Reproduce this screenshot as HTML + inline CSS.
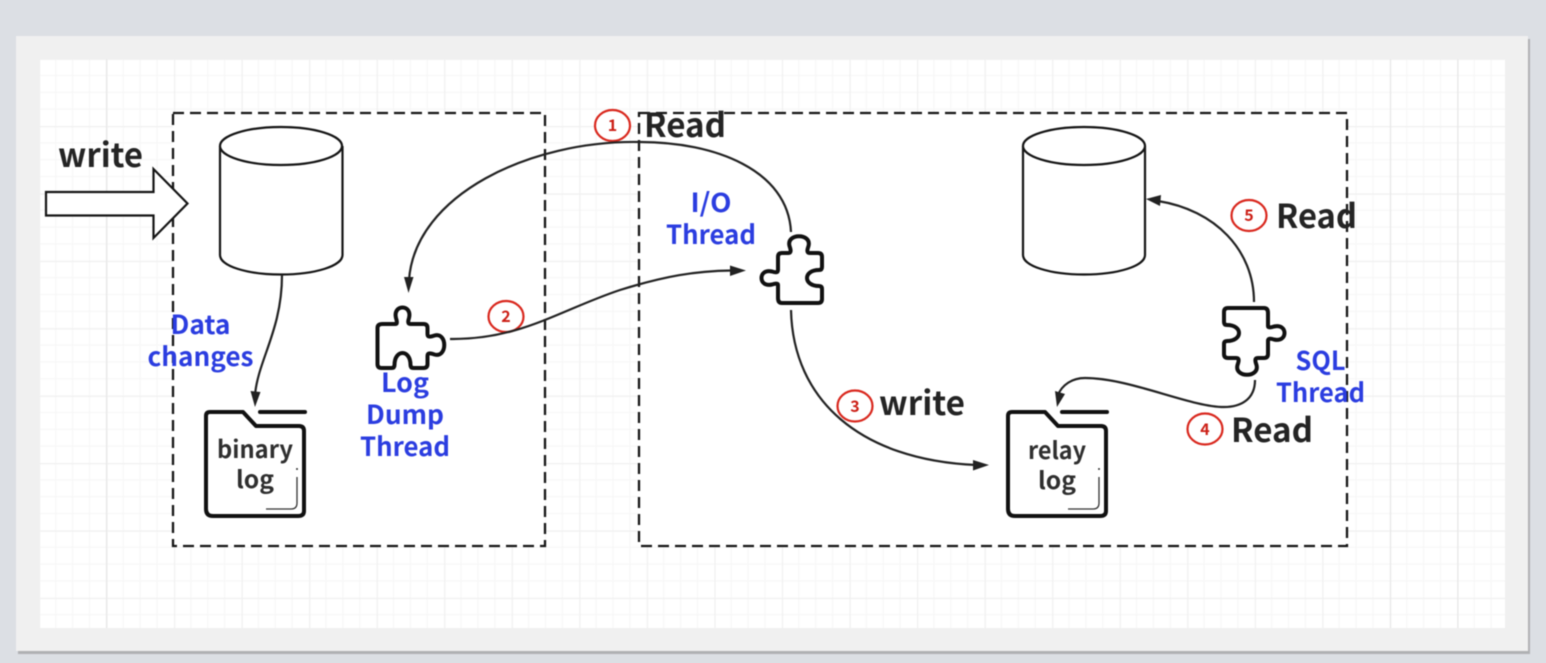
<!DOCTYPE html>
<html lang="en">
<head>
<meta charset="utf-8">
<title>Replication diagram</title>
<style>
html,body{margin:0;padding:0;width:1546px;height:663px;overflow:hidden;background:#dcdfe4;}
svg{display:block;position:absolute;left:0;top:0;filter:blur(0.45px);}
text{font-family:"Noto Sans CJK SC","Liberation Sans",sans-serif;}
.k{font-weight:700;font-size:33px;fill:#242424;}
.b{font-weight:700;font-size:26px;fill:#2b3de0;text-anchor:middle;}
.f{font-weight:700;font-size:24px;fill:#2f2f2f;text-anchor:middle;}
.n{font-weight:700;font-size:16px;fill:#cc1f16;text-anchor:middle;}
.c{fill:#fff;stroke:#d9281e;stroke-width:2.2;}
.l{fill:none;stroke:#222;stroke-width:2.2;}
.d{fill:#fff;stroke:#151515;stroke-width:2.3;stroke-dasharray:11 6;}
.y{fill:#fff;stroke:#151515;stroke-width:2.2;}
</style>
</head>
<body>
<svg width="1546" height="663" viewBox="0 0 1546 663" xmlns="http://www.w3.org/2000/svg">
<defs>
<pattern id="g" patternUnits="userSpaceOnUse" x="106.4" y="126" width="67.55" height="67.4">
<rect width="67.55" height="67.4" fill="#fff"/>
<path d="M16.89 0V67.4M33.78 0V67.4M50.66 0V67.4M0 16.85H67.55M0 33.7H67.55M0 50.55H67.55" stroke="#f7f7f7" stroke-width="1.2" fill="none"/>
<path d="M0.5 0V67.4M0 0.5H67.55" stroke="#f0f0f0" stroke-width="1.4" fill="none"/>
</pattern>
<path id="p" d="M5 0H18C20 0 19.500 -3 18.500 -6C15 -20 35 -20 31.500 -6C30.500 -3 30 0 33 0H46Q50 0 50 4V10C50 14 54 12.500 57 11.500C70 8 70 34 57 30.500C54 29.500 50 28 50 32V40Q50 44 46 44H36Q33 44 33 41C33 25 17 25 17 41Q17 44 14 44H4Q0 44 0 40V4Q0 0 5 0Z"/>
<path id="fd" d="M5 412H38L51 426H94Q99 426 99 431V511Q99 516 93 516H8Q1 516 1 509V416Q1 412 5 412Z"/>
</defs>

<rect x="18" y="39" width="1512" height="615" fill="#8a8a8a" opacity=".55"/>
<rect x="16" y="36" width="1512" height="615" fill="#f0f0f0"/>
<rect x="40" y="59" width="1465" height="569" fill="url(#g)"/>
<path d="M106.500 59V628M1390.500 59V628M1457.800 59V628" stroke="#e8e8e8" stroke-width="1.2"/>

<rect class="d" x="173" y="113" width="372" height="433"/>
<rect class="d" x="639" y="113" width="708" height="433"/>

<!-- block arrow -->
<path class="y" d="M46 192H153.500V169L187.500 203.500L153.500 238V215.500H46Z"/>

<!-- cylinders -->
<g class="y">
<path d="M220 146V255C220 266 247 274.500 281 274.500C315 274.500 342.500 266 342.500 255V146"/>
<ellipse cx="281" cy="146" rx="61" ry="19"/>
<path d="M1023 146V255C1023 266 1050 274.500 1084 274.500C1118 274.500 1145 266 1145 255V146"/>
<ellipse cx="1084" cy="146" rx="61" ry="19"/>
</g>

<!-- circles -->
<ellipse class="c" cx="612.500" cy="125.500" rx="17.500" ry="15.500"/>
<ellipse class="c" cx="506" cy="316.500" rx="17.500" ry="15.500"/>
<ellipse class="c" cx="855" cy="406" rx="17.500" ry="15.500"/>
<ellipse class="c" cx="1205" cy="429" rx="17.500" ry="15.500"/>
<ellipse class="c" cx="1249" cy="215.500" rx="17.500" ry="15.500"/>
<text class="n" x="612.500" y="131">1</text>
<text class="n" x="506" y="322">2</text>
<text class="n" x="855" y="412">3</text>
<text class="n" x="1205" y="435">4</text>
<text class="n" x="1249" y="221">5</text>

<!-- connectors -->
<path class="l" d="M791 232C788 170 715 142 640 142C530 140 415 195 409 280"/>
<path d="M408.500 293L404 277L413.500 277Z" fill="#222"/>
<path class="l" d="M450 339C520 340 560 310 620 290C665 276 695 271 732 270.500"/>
<path d="M746 270.500L730 265.500L730 276Z" fill="#222"/>
<path class="l" d="M791 310C793 400 860 460 976 465"/>
<path d="M989 465L973 460L973 470.500Z" fill="#222"/>
<path class="l" d="M1255 380C1255 400 1240 407 1224 407C1190 407 1130 378 1085 378C1072 378 1062 385 1058 395"/>
<path d="M1057 407L1055 391L1065 394Z" fill="#222"/>
<path class="l" d="M1254 302C1254 250 1215 210 1158 201"/>
<path d="M1146 199L1161 195L1160 206Z" fill="#222"/>
<path class="l" d="M282 275C282 330 258 360 255 395"/>
<path d="M255 407L250.500 391L260.500 392Z" fill="#222"/>

<!-- puzzles -->
<use href="#p" transform="translate(377.500 324)" fill="#fff" stroke="#111" stroke-width="4" stroke-linejoin="round"/>
<use href="#p" transform="translate(778 303) rotate(-90)" fill="#fff" stroke="#111" stroke-width="4" stroke-linejoin="round"/>
<use href="#p" transform="translate(1268 308) rotate(90)" fill="#fff" stroke="#111" stroke-width="4" stroke-linejoin="round"/>

<!-- folders -->
<g transform="translate(205 0)">
<use href="#fd" fill="#fff" stroke="#111" stroke-width="4" stroke-linejoin="round"/>
<path d="M55 412H100" stroke="#111" stroke-width="4" stroke-linecap="round" fill="none"/>
<path d="M92 477V503Q92 509 86 509H61" stroke="#333" stroke-width="1.300" fill="none"/>
<circle cx="92" cy="469" r="1" fill="#333"/>
</g>
<g transform="translate(1007 0)">
<use href="#fd" fill="#fff" stroke="#111" stroke-width="4" stroke-linejoin="round"/>
<path d="M55 412H100" stroke="#111" stroke-width="4" stroke-linecap="round" fill="none"/>
<path d="M92 477V503Q92 509 86 509H61" stroke="#333" stroke-width="1.300" fill="none"/>
<circle cx="92" cy="469" r="1" fill="#333"/>
</g>

<!-- black labels -->
<text class="k" x="58" y="167" textLength="85" lengthAdjust="spacingAndGlyphs">write</text>
<text class="k" x="644" y="137" textLength="82" lengthAdjust="spacingAndGlyphs">Read</text>
<text class="k" x="1276" y="228" textLength="81" lengthAdjust="spacingAndGlyphs">Read</text>
<text class="k" x="1231" y="442" textLength="82" lengthAdjust="spacingAndGlyphs">Read</text>
<text class="k" x="879" y="415" textLength="86" lengthAdjust="spacingAndGlyphs">write</text>

<!-- blue labels -->
<text class="b" x="200.500" y="334" textLength="60" lengthAdjust="spacingAndGlyphs">Data</text>
<text class="b" x="200.500" y="366" textLength="106" lengthAdjust="spacingAndGlyphs">changes</text>
<text class="b" x="405" y="392" textLength="48" lengthAdjust="spacingAndGlyphs">Log</text>
<text class="b" x="405" y="424" textLength="78" lengthAdjust="spacingAndGlyphs">Dump</text>
<text class="b" x="405" y="456" textLength="90" lengthAdjust="spacingAndGlyphs">Thread</text>
<text class="b" x="711" y="212" textLength="41" lengthAdjust="spacingAndGlyphs">I/O</text>
<text class="b" x="711" y="244" textLength="90" lengthAdjust="spacingAndGlyphs">Thread</text>
<text class="b" x="1320.500" y="370" textLength="50" lengthAdjust="spacingAndGlyphs">SQL</text>
<text class="b" x="1320.500" y="402" textLength="89" lengthAdjust="spacingAndGlyphs">Thread</text>

<!-- folder labels -->
<text class="f" x="255" y="458" textLength="76" lengthAdjust="spacingAndGlyphs">binary</text>
<text class="f" x="255" y="488" textLength="38" lengthAdjust="spacingAndGlyphs">log</text>
<text class="f" x="1057" y="459" textLength="58" lengthAdjust="spacingAndGlyphs">relay</text>
<text class="f" x="1057" y="489" textLength="38" lengthAdjust="spacingAndGlyphs">log</text>
</svg>
</body>
</html>
